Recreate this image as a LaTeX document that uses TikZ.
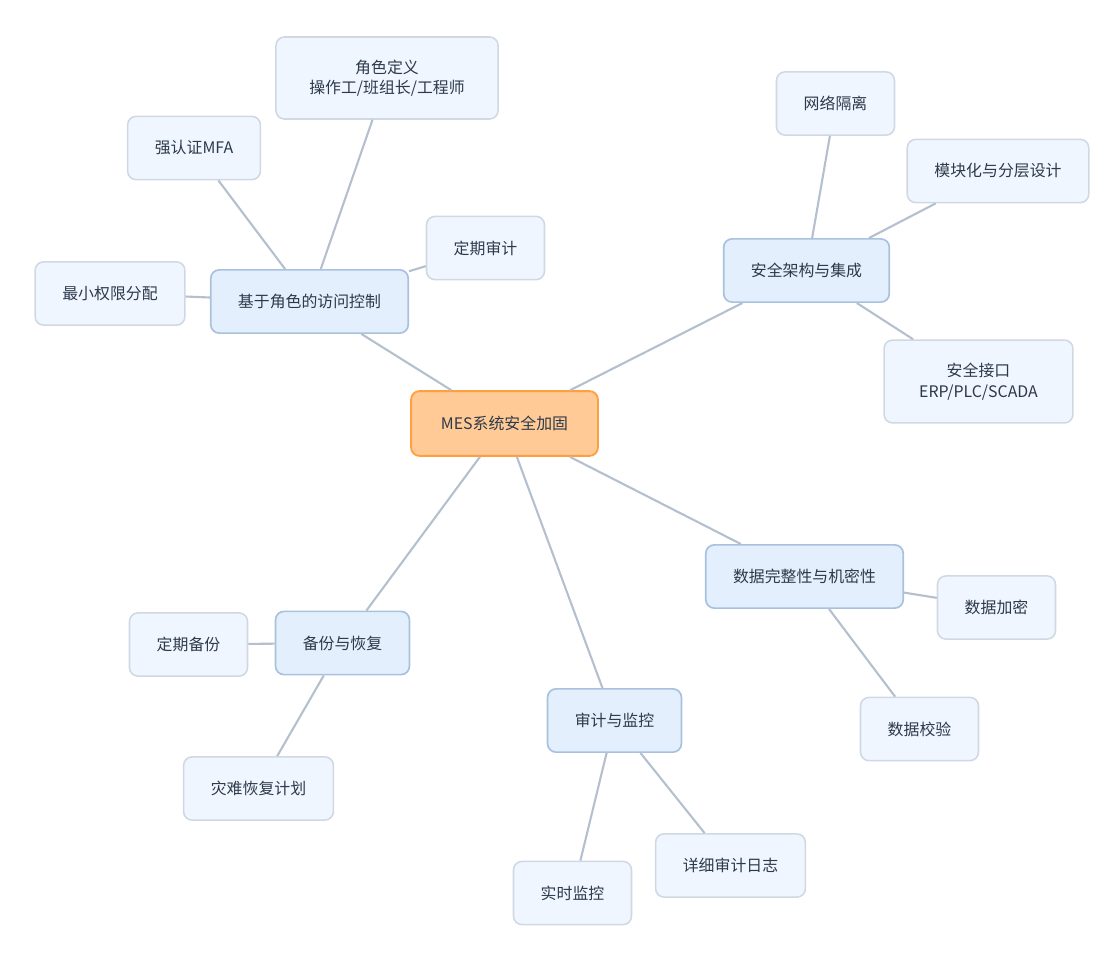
\documentclass[tikz,border=0pt]{standalone}
\usepackage{fontspec}
\setmainfont{Noto Sans CJK SC}
\usepackage{tikz}
\usetikzlibrary{positioning}
\definecolor{HubFill}{HTML}{FFCA95}
\definecolor{HubLine}{HTML}{FF9F40}
\definecolor{TopicFill}{HTML}{E3EFFD}
\definecolor{TopicLine}{HTML}{AAC1DD}
\definecolor{LeafFill}{HTML}{EFF6FF}
\definecolor{LeafLine}{HTML}{D0D8E2}
\definecolor{EdgeGray}{HTML}{B5C0CF}
\definecolor{TextDark}{HTML}{2D3A4A}

\begin{document}
\begin{tikzpicture}[x=0.025cm, y=-0.025cm,
    hub/.style={rectangle, draw=HubLine, fill=HubFill, line width=1.3pt,
                rounded corners=6pt, minimum width=4.67cm,
                minimum height=1.62cm, align=center, text=TextDark,
                font=\fontsize{11.3}{14.5}\selectfont},
    topic/.style={rectangle, draw=TopicLine, fill=TopicFill, line width=1.2pt,
                  rounded corners=6pt, inner xsep=0.68cm,
                  minimum height=1.58cm, align=center, text=TextDark,
                  font=\fontsize{11.3}{14.5}\selectfont},
    leaf/.style={rectangle, draw=LeafLine, fill=LeafFill, line width=1.1pt,
                 rounded corners=6pt, inner xsep=0.68cm,
                 minimum height=1.58cm, align=center, text=TextDark,
                 font=\fontsize{11.3}{14.5}\selectfont},
    link/.style={EdgeGray, line width=1.5pt}
  ]
    \useasboundingbox (0,0) rectangle (1120,960);

    % branch boxes
    \node[topic] (rbac) at (309.5,301.5) {基于角色的访问控制};
    \node[topic] (arch) at (806.5,270.5) {安全架构与集成};
    \node[topic] (data) at (804.5,576.5) {数据完整性与机密性};
    \node[topic] (audit) at (614.5,720.5) {审计与监控};
    \node[topic] (backup) at (342.5,643) {备份与恢复};

    % leaves
    \node[leaf, minimum width=5.55cm, minimum height=2.05cm] (roles) at (387,78) {角色定义\\操作工/班组长/工程师};
    \node[leaf] (mfa) at (194,148) {强认证MFA};
    \node[leaf] (review) at (485.5,248) {定期审计};
    \node[leaf] (least) at (110,293.5) {最小权限分配};

    \node[leaf] (netiso) at (835.5,103.5) {网络隔离};
    \node[leaf] (layers) at (998,171) {模块化与分层设计};
    \node[leaf, minimum width=4.72cm, minimum height=2.07cm] (iface) at (978.5,381.5) {安全接口\\ERP/PLC/SCADA};

    \node[leaf] (crypt) at (996.5,607.5) {数据加密};
    \node[leaf] (check) at (919.5,729) {数据校验};

    \node[leaf] (live) at (572.5,893) {实时监控};
    \node[leaf] (logs) at (730.5,865.5) {详细审计日志};

    \node[leaf] (bkup) at (188.5,644.5) {定期备份};
    \node[leaf] (drp) at (258.5,788.5) {灾难恢复计划};

    \node[hub] (hub) at (504.5,423.5) {MES系统安全加固};

    \draw[link] (hub) -- (rbac);
    \draw[link] (hub) -- (arch);
    \draw[link] (hub) -- (data);
    \draw[link] (hub) -- (audit);
    \draw[link] (hub) -- (backup);
    \draw[link] (rbac) -- (roles);
    \draw[link] (rbac) -- (mfa);
    \draw[link] (rbac) -- (review);
    \draw[link] (rbac) -- (least);
    \draw[link] (arch) -- (netiso);
    \draw[link] (arch) -- (layers);
    \draw[link] (arch) -- (iface);
    \draw[link] (data) -- (crypt);
    \draw[link] (data) -- (check);
    \draw[link] (audit) -- (live);
    \draw[link] (audit) -- (logs);
    \draw[link] (backup) -- (bkup);
    \draw[link] (backup) -- (drp);
  \end{tikzpicture}
\end{document}
